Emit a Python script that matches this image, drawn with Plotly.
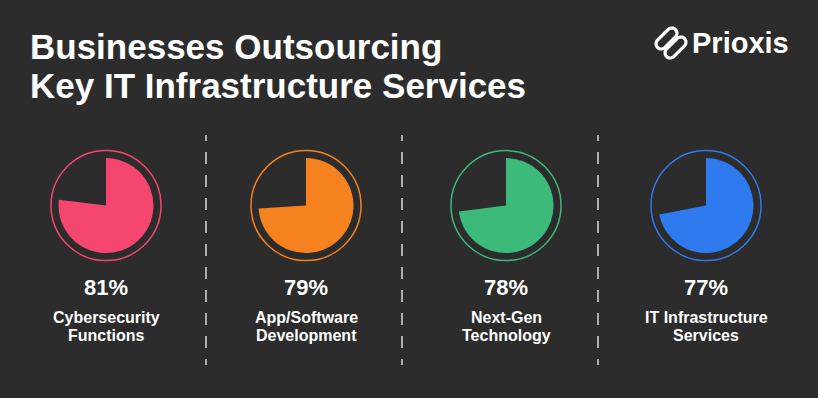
import numpy as np
import plotly.graph_objects as go

# ---------------- data ----------------
label_line1 = ["Cybersecurity", "App/Software", "Next-Gen", "IT Infrastructure"]
label_line2 = ["Functions", "Development", "Technology", "Services"]
values = [81, 79, 78, 77]            # printed percentages
slice_fill = [77, 74, 73, 72]        # filled share of each pie as drawn in the reference
colors = ["#F5466F", "#F5821F", "#3BBA7A", "#2F7AEF"]
title_lines = ["Businesses Outsourcing", "Key IT Infrastructure Services"]
brand = "Prioxis"

# ---------------- layout constants (pixels) ----------------
W, H = 818, 398
BG = "#2C2C2C"
centers_x = [106, 306, 506, 706]
center_y = 205.6
r_fill = 47.5
r_ring = 55
sep_x = [206, 402, 598]
FONT = "Liberation Sans, Arial, sans-serif"

fig = go.Figure()

for i, v in enumerate(slice_fill):
    cx = centers_x[i]
    fig.add_trace(go.Pie(
        values=[v, 100 - v],
        sort=False,
        direction="clockwise",
        rotation=0,
        marker=dict(colors=[colors[i], "rgba(0,0,0,0)"], line=dict(width=0)),
        textinfo="none",
        hoverinfo="skip",
        showlegend=False,
        domain=dict(x=[(cx - r_fill) / W, (cx + r_fill) / W],
                    y=[1 - (center_y + r_fill) / H, 1 - (center_y - r_fill) / H]),
    ))

shapes = []
annotations = []

# ring outlines
for i, cx in enumerate(centers_x):
    shapes.append(dict(type="circle", xref="x", yref="y",
                       x0=cx - r_ring, x1=cx + r_ring,
                       y0=center_y - r_ring, y1=center_y + r_ring,
                       line=dict(color=colors[i], width=1.5)))

# dashed separators
dash = "6px,11px," + "12px,11px," * 9 + "6px"
for sx in sep_x:
    shapes.append(dict(type="line", xref="x", yref="y", x0=sx, x1=sx, y0=135, y1=365,
                       line=dict(color="#CFCFCF", width=1.6, dash=dash)))

# value and label texts
for i, cx in enumerate(centers_x):
    annotations.append(dict(x=cx, y=287.5, xref="x", yref="y", text=f"<b>{values[i]}%</b>",
                            showarrow=False, xanchor="center", yanchor="middle",
                            font=dict(family=FONT, size=22, color="white")))
    annotations.append(dict(x=cx, y=317.8, xref="x", yref="y", text=f"<b>{label_line1[i]}</b>",
                            showarrow=False, xanchor="center", yanchor="middle",
                            font=dict(family=FONT, size=16, color="white")))
    annotations.append(dict(x=cx, y=335.6, xref="x", yref="y", text=f"<b>{label_line2[i]}</b>",
                            showarrow=False, xanchor="center", yanchor="middle",
                            font=dict(family=FONT, size=16, color="white")))

# title
title_y = [46, 85]
for t, ty in zip(title_lines, title_y):
    annotations.append(dict(x=28, y=ty, xref="x", yref="y", text=f"<b>{t}</b>",
                            showarrow=False, xanchor="left", yanchor="middle",
                            font=dict(family=FONT, size=35, color="white")))

# brand text
annotations.append(dict(x=690, y=43, xref="x", yref="y", text=f"<b>{brand}</b>",
                        showarrow=False, xanchor="left", yanchor="middle",
                        font=dict(family=FONT, size=29, color="white")))

# brand icon: two interlocking capsules (decorative)
def capsule(cx, cy, half_len, rad, ang_deg):
    a = np.deg2rad(ang_deg)
    u = np.array([np.cos(a), -np.sin(a)])
    c = np.array([cx, cy])
    pts = []
    p1 = c + u * half_len
    p2 = c - u * half_len
    base = np.arctan2(u[1], u[0])
    for t in np.linspace(base - np.pi / 2, base + np.pi / 2, 10):
        pts.append(p1 + rad * np.array([np.cos(t), np.sin(t)]))
    for t in np.linspace(base + np.pi / 2, base + 3 * np.pi / 2, 10):
        pts.append(p2 + rad * np.array([np.cos(t), np.sin(t)]))
    return "M " + " L ".join(f"{p[0]:.2f},{p[1]:.2f}" for p in pts) + " Z"

for (cx, cy) in [(666.5, 38.5), (675.5, 47.5)]:
    shapes.append(dict(type="path", xref="x", yref="y", path=capsule(cx, cy, 7.5, 5.2, 45),
                       line=dict(color="white", width=3.2), fillcolor="rgba(0,0,0,0)"))

fig.update_layout(
    width=W, height=H,
    margin=dict(l=0, r=0, t=0, b=0),
    paper_bgcolor=BG, plot_bgcolor=BG,
    xaxis=dict(range=[0, W], visible=False, fixedrange=True, domain=[0, 1]),
    yaxis=dict(range=[H, 0], visible=False, fixedrange=True, domain=[0, 1]),
    shapes=shapes,
    annotations=annotations,
    showlegend=False,
)

fig.write_html(
    "out.html",
    config={"displayModeBar": False},
    post_script="document.body.style.margin='0';document.body.style.background='#2C2C2C';",
)
